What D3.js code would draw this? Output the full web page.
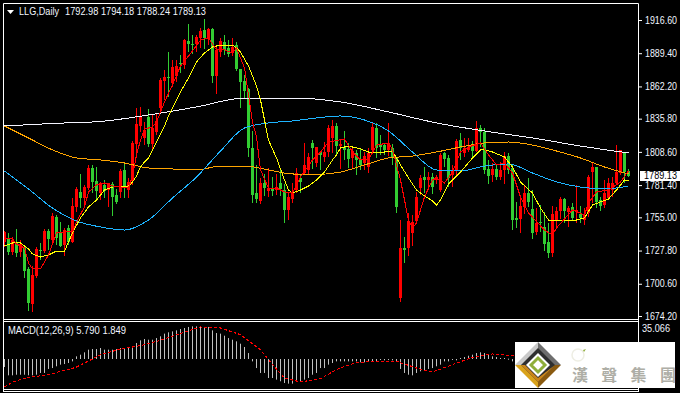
<!DOCTYPE html>
<html>
<head>
<meta charset="utf-8">
<script src="https://cdn.jsdelivr.net/npm/d3@7"></script>
<style>
  html, body { margin: 0; padding: 0; background: #000; overflow: hidden; }
  svg { display: block; }
  text { font-family: "Liberation Sans", sans-serif; }
</style>
</head>
<body>
<svg width="680" height="393"></svg>
<script>
var symbol = "LLG,Daily";
var macdLabel = "MACD(12,26,9) 5.790 1.849";
var priceTicks = [1916.6, 1889.4, 1862.2, 1835.8, 1808.6, 1781.4, 1755.0, 1727.8, 1700.6, 1674.2];
var macdTop = 35.066;

var open = [1734.8,1738.1,1726.6,1734.0,1726.6,1730.7,1712.7,1684.0,1707.0,1728.3,1727.4,1743.8,1736.4,1755.3,1742.2,1732.3,1746.3,1734.8,1763.5,1775.8,
  1770.8,1779.0,1795.4,1784.8,1774.9,1781.5,1777.4,1782.3,1773.3,1775.8,1793.8,1777.4,1784.8,1815.1,1829.8,1820.0,1837.2,1815.1,1824.9,1844.5,
  1866.7,1869.9,1865.0,1870.8,1881.4,1879.8,1899.4,1897.0,1897.0,1901.9,1908.4,1901.1,1909.2,1870.8,1890.4,1898.6,1893.7,1889.6,1896.1,1876.5,
  1866.7,1860.1,1811.8,1774.9,1768.4,1783.1,1776.6,1779.0,1777.4,1783.1,1777.4,1761.0,1770.0,1777.4,1787.2,1791.3,1793.8,1815.9,1799.5,1808.5,
  1804.4,1808.5,1820.0,1829.8,1813.4,1812.6,1811.0,1803.6,1807.7,1802.0,1799.5,1796.2,1810.2,1828.2,1815.1,1814.2,1810.2,1811.8,1803.6,1688.9,
  1729.9,1729.9,1742.2,1752.0,1779.0,1788.0,1785.6,1788.0,1785.6,1777.4,1807.7,1803.6,1789.7,1793.8,1818.3,1807.7,1810.2,1814.2,1809.3,1828.2,
  1824.9,1794.6,1789.7,1794.6,1788.0,1793.8,1805.2,1795.4,1754.5,1753.6,1763.5,1774.9,1761.8,1743.0,1751.2,1747.1,1734.8,1725.8,1752.8,1760.2,
  1770.0,1759.4,1763.5,1759.4,1757.7,1752.8,1758.6,1792.1,1796.2,1769.2,1765.1,1770.8,1777.4,1783.1,1791.3,1807.7,1792.98];
var high = [1743.8,1742.2,1738.9,1745.4,1736.4,1732.3,1714.3,1715.1,1730.7,1734.0,1745.4,1745.4,1758.6,1756.9,1751.2,1746.3,1748.7,1770.8,1779.8,1790.5,
  1781.5,1797.9,1797.9,1796.2,1783.9,1785.6,1783.1,1783.9,1778.2,1794.6,1799.5,1787.2,1817.5,1844.5,1845.4,1833.1,1843.7,1838.8,1840.5,1869.1,
  1875.7,1890.4,1883.9,1883.9,1888.0,1901.1,1913.3,1904.3,1904.3,1910.1,1917.4,1910.1,1910.1,1896.1,1901.9,1904.3,1900.2,1901.9,1898.6,1876.5,
  1871.6,1860.9,1825.7,1797.9,1787.2,1790.5,1795.4,1788.0,1790.5,1793.8,1782.3,1775.8,1783.1,1795.4,1789.7,1815.9,1807.7,1818.3,1812.6,1808.5,
  1816.7,1830.6,1834.7,1832.3,1818.3,1825.7,1815.9,1811.8,1810.2,1811.8,1808.5,1811.8,1832.3,1832.3,1822.4,1815.9,1832.3,1815.1,1804.4,1752.8,
  1738.9,1758.6,1756.9,1775.8,1789.7,1796.2,1792.1,1791.3,1789.7,1807.7,1808.5,1806.1,1797.9,1819.2,1824.1,1820.0,1820.0,1817.5,1833.9,1830.6,
  1828.2,1802.0,1799.5,1797.9,1800.3,1808.5,1807.7,1797.9,1767.6,1771.7,1780.7,1787.2,1777.4,1762.6,1765.1,1759.4,1750.4,1764.3,1763.5,1771.7,
  1770.8,1764.3,1766.7,1781.5,1764.3,1762.6,1789.7,1800.3,1796.2,1771.7,1785.6,1787.2,1788.0,1814.2,1810.2,1808.5,1794.18];
var low = [1730.7,1724.1,1724.1,1722.5,1722.5,1705.3,1678.3,1677.5,1705.3,1720.1,1725.8,1728.3,1732.3,1732.3,1730.7,1723.3,1732.3,1734.0,1759.4,1762.7,
  1765.1,1777.4,1774.9,1769.2,1769.2,1770.8,1763.5,1756.1,1765.9,1770.8,1770.8,1770.8,1781.5,1806.1,1824.9,1814.2,1812.6,1810.2,1822.4,1842.1,
  1851.1,1853.6,1861.7,1865.8,1873.2,1876.5,1890.4,1888.8,1890.4,1893.7,1892.9,1896.1,1865.0,1856.0,1886.3,1888.0,1886.3,1887.1,1874.9,1844.5,
  1852.7,1804.4,1766.7,1766.7,1765.9,1772.5,1771.7,1772.5,1773.3,1772.5,1750.4,1752.8,1766.7,1774.9,1774.9,1789.7,1789.7,1794.6,1796.2,1793.8,
  1800.3,1804.4,1807.7,1806.1,1794.6,1802.0,1795.4,1795.4,1789.7,1793.8,1793.8,1791.3,1807.7,1803.6,1806.1,1806.1,1805.2,1797.9,1758.6,1685.7,
  1717.6,1723.3,1731.5,1751.2,1773.3,1774.9,1777.4,1774.1,1782.3,1775.8,1796.2,1779.8,1779.8,1788.9,1802.0,1804.4,1808.5,1804.4,1808.5,1812.6,
  1790.5,1782.3,1783.9,1785.6,1785.6,1782.3,1790.5,1744.6,1746.3,1742.2,1757.7,1763.5,1737.3,1740.5,1743.0,1727.4,1721.7,1722.5,1747.1,1753.6,
  1750.4,1747.1,1752.8,1750.4,1750.4,1748.7,1755.3,1766.7,1762.6,1760.2,1762.6,1769.2,1771.7,1781.5,1789.7,1783.1,1788.24];
var close = [1743.0,1726.6,1736.4,1725.8,1733.2,1711.1,1684.8,1707.8,1729.1,1727.4,1743.8,1737.3,1756.1,1738.1,1731.5,1744.6,1734.8,1764.3,1778.2,1770.8,
  1779.8,1795.4,1783.9,1776.6,1783.1,1776.6,1783.1,1771.7,1767.6,1793.0,1779.8,1783.9,1815.9,1831.4,1838.0,1826.5,1815.1,1828.2,1833.9,1867.5,
  1869.9,1869.1,1878.1,1878.9,1880.6,1900.2,1897.0,1896.1,1902.7,1907.6,1901.9,1909.2,1870.8,1892.1,1899.4,1892.1,1888.8,1894.5,1876.5,1865.8,
  1858.5,1811.8,1773.3,1770.0,1783.1,1779.0,1779.0,1776.6,1779.8,1778.2,1761.0,1771.7,1774.9,1791.3,1783.9,1797.9,1804.4,1811.8,1812.6,1806.1,
  1808.5,1828.2,1829.8,1813.4,1815.1,1810.2,1802.8,1809.3,1802.0,1797.9,1805.2,1807.7,1829.0,1811.8,1812.6,1810.2,1815.9,1803.6,1763.5,1729.9,
  1728.3,1752.0,1751.2,1771.7,1787.2,1785.6,1788.0,1779.8,1788.0,1806.1,1802.8,1787.2,1793.8,1817.5,1811.8,1811.8,1812.6,1809.3,1828.2,1824.9,
  1793.8,1788.9,1794.6,1788.0,1793.8,1805.2,1793.8,1752.8,1752.8,1764.3,1774.9,1767.6,1742.2,1750.4,1750.4,1733.2,1725.8,1757.7,1760.2,1770.0,
  1760.2,1762.6,1754.5,1761.0,1754.5,1756.9,1788.0,1796.2,1767.6,1764.3,1774.9,1783.1,1783.1,1792.1,1810.2,1792.1,1789.13];

// slow averages, read every 12 / 6 bars
var whiteBars = [0,12,24,36,48,60,72,84,96,108,120,132,144,156];
var white = [1829.8,1831.9,1833.5,1838.8,1845.4,1852.7,1852.7,1849.5,1841.3,1832.3,1825.7,1820.0,1813.4,1807.7];
var slowBars = d3.range(0, 157, 6);
var orange = [1829.8,1820.0,1810.2,1803.6,1802.0,1799.5,1795.4,1794.6,1793.8,1797.0,1797.0,1793.8,1790.5,1790.1,1792.1,1797.9,1803.6,1805.2,1808.5,1812.6,1815.9,1816.7,1814.2,1809.3,1803.6,1796.2,1790.5];
var blue = [1793.0,1778.2,1762.6,1752.0,1747.1,1744.6,1752.8,1770.8,1788.0,1809.3,1828.2,1832.3,1833.9,1836.4,1838.0,1834.7,1825.7,1808.5,1793.8,1793.0,1797.0,1798.7,1791.3,1784.0,1779.8,1778.2,1780.7];

var yellowBars = [0,2,4,6,7,9,11,13,15,17,19,21,23,25,27,31,32,33,34,35,36,38,40,41,44,46,48,50,52,54,57,58,59,61,63,64,66,68,70,71,72,74,76,78,80,82,83,84,86,89,91,95,97,98,99,101,103,105,107,108,109,111,114,117,119,120,122,125,127,129,132,134,136,137,141,143,145,147,149,151,153,155,156];
var yellow = [1731.5,1734.0,1734.0,1729.1,1725.0,1722.5,1724.2,1727.4,1727.4,1742.2,1754.5,1763.5,1769.2,1777.4,1779.8,1780.7,1783.9,1788.9,1796.2,1800.3,1803.6,1816.7,1829.8,1838.0,1857.7,1869.1,1882.2,1889.6,1894.5,1896.1,1896.1,1893.7,1890.4,1878.9,1862.6,1851.1,1818.3,1803.6,1785.6,1777.4,1774.9,1777.4,1780.7,1785.6,1792.1,1802.0,1806.1,1811.8,1813.4,1811.0,1808.5,1808.5,1809.3,1803.6,1797.9,1787.2,1777.4,1772.5,1768.4,1765.1,1769.2,1782.3,1792.1,1803.6,1810.2,1810.2,1808.5,1804.4,1796.2,1783.9,1774.9,1762.6,1752.8,1752.0,1752.0,1752.8,1754.5,1765.1,1767.6,1770.0,1777.4,1785.6,1784.8];

var redBars = [0,2,3,5,6,7,9,11,13,15,17,18,20,21,23,25,27,31,32,33,34,35,37,38,40,42,44,47,49,51,53,55,57,58,60,61,62,63,64,66,68,70,72,74,77,79,81,85,87,89,91,93,96,97,98,99,101,102,103,105,107,108,110,112,114,116,119,121,123,125,127,129,131,135,137,138,142,145,146,148,151,154,156];
var red = [1738.1,1737.3,1733.2,1729.9,1717.6,1712.7,1712.7,1724.2,1742.2,1743.0,1743.0,1751.2,1763.5,1775.8,1781.5,1783.1,1780.7,1779.0,1788.9,1806.1,1818.3,1827.3,1829.0,1833.1,1849.5,1863.4,1878.9,1891.2,1900.2,1901.9,1892.1,1892.1,1889.6,1893.7,1877.3,1855.2,1833.1,1820.8,1793.8,1779.0,1779.0,1775.8,1774.9,1788.0,1802.0,1808.5,1816.7,1819.2,1808.5,1802.0,1802.0,1814.2,1815.9,1810.2,1797.9,1785.6,1752.8,1746.3,1750.4,1771.7,1785.6,1787.2,1783.1,1792.1,1808.5,1812.6,1815.9,1806.1,1797.9,1799.5,1791.3,1771.7,1758.6,1744.6,1740.5,1746.3,1761.0,1756.9,1766.7,1775.8,1777.4,1784.0,1793.0];

var hist = [-7.8,-15.9,-15.9,-15.3,-15.3,-15.3,-15.9,-15.9,-15.3,-13.6,-13.6,-9.7,-8.8,-7.1,-5.5,-4.9,-3.9,-2.3,
  2.6,4.2,6.5,9.1,9.7,9.7,10.7,9.1,9.1,9.1,9.7,10.7,10.7,11.7,11.7,15.6,18.2,19.5,18.8,18.8,20.4,22.1,24.7,26,26.9,27.9,29.2,30.2,31.2,31.8,31.8,31.8,31.2,31.2,27.9,25.3,24.7,22.7,20.4,18.8,17.2,14.9,11.7,5.8,
  -2.3,-8.8,-13.6,-13.6,-18.5,-18.5,-20.1,-21.7,-23.4,-24,-24,-21.7,-21.7,-20.1,-18.5,-15.3,-13.6,-8.8,-8.8,-5.5,-3.9,-2.3,
  -2.3,-2.3,-2.3,-2.3,-2.3,-3.2,-3.2,-2.3,-2.3,-2.3,-0.6,-1.3,-1.0,-1.3,-2.3,-9.7,-13.6,-15.3,-15.9,-13.6,-12,-11,-9.7,-8.8,-7.1,-5.5,-2.3,-2.3,-0.6,-1.3,
  1,1.9,3.2,4.2,5.8,6.5,5.8,4.2,2.6,1.9,1,1,0.3,-2.3,
  -3,-5,-6,-7,-8,-8,-9,-9,-8,-7,-7,-6,-5,-5,-4,-3,-3,-2,-1,0,1,2,2,3,3,4,5,5.5,5.79];
var signalBars = [0,2,4,6,8,10,12,14,16,18,20,22,24,29,34,39,44,49,54,59,64,67,70,74,79,83,84,88,94,98,103,107,112,117,122,126,130,142,150,156];
var signal = [-27.3,-22.7,-20.1,-17.9,-16.9,-15.9,-14.3,-12,-10.4,-7.8,-3.9,0,4.2,9.7,13,18.2,24.7,31.2,30.2,23.7,9.1,-5.5,-18.5,-22.4,-19.2,-10.4,-8.8,-3.2,-2.3,-2.3,-8.8,-12.7,-5.5,1.6,4.9,3.6,2,-2,0,1.849];

var svg = d3.select("svg");

var x = d3.scaleLinear().domain([0, 156]).range([4.5, 628.5]);
var y = d3.scaleLinear().domain([1674.2, 1916.6]).range([316, 20]);
var yMacd = d3.scaleLinear().domain([-30, macdTop]).range([389.8, 323]);

var upColor = "#ff0000", downColor = "#32cd32", labelColor = "#f2f6ff";

// candles
var bars = svg.append("g").attr("class", "candles")
  .selectAll("g")
  .data(d3.range(close.length))
  .enter().append("g")
  .attr("fill", i => close[i] >= open[i] ? upColor : downColor);

bars.append("rect")
  .attr("x", i => x(i) - 0.5)
  .attr("width", 1)
  .attr("y", i => Math.round(y(high[i])))
  .attr("height", i => Math.max(1, Math.round(y(low[i])) - Math.round(y(high[i]))));

bars.append("rect")
  .attr("x", i => x(i) - 1.5)
  .attr("width", 3)
  .attr("y", i => Math.round(y(Math.max(open[i], close[i]))))
  .attr("height", i => Math.max(1, Math.round(y(Math.min(open[i], close[i]))) - Math.round(y(Math.max(open[i], close[i])))));

// moving averages
function drawLine(idx, vals, color, curve) {
  var line = d3.line()
    .x(d => x(d))
    .y((d, k) => y(vals[k]))
    .curve(curve);
  svg.append("path")
    .attr("d", line(idx))
    .attr("fill", "none")
    .attr("stroke", color)
    .attr("stroke-width", 1)
    .attr("shape-rendering", "crispEdges");
}
drawLine(whiteBars, white, "#f4f4ff", d3.curveMonotoneX);
drawLine(slowBars, orange, "#ffa500", d3.curveMonotoneX);
drawLine(slowBars, blue, "#1eb4ff", d3.curveMonotoneX);
drawLine(yellowBars, yellow, "#ffff00", d3.curveLinear);
drawLine(redBars, red, "#ff0000", d3.curveLinear);

// macd panel
svg.append("g").selectAll("rect")
  .data(hist)
  .enter().append("rect")
  .attr("x", (d, i) => x(i) - 0.5)
  .attr("width", 1)
  .attr("y", d => Math.min(yMacd(d), yMacd(0)))
  .attr("height", d => Math.max(1, Math.abs(yMacd(d) - yMacd(0))))
  .attr("fill", "#c0c0c0");

var signalLine = d3.line().x(d => x(d)).y((d, k) => yMacd(signal[k]));
svg.append("path")
  .attr("d", signalLine(signalBars))
  .attr("fill", "none")
  .attr("stroke", "#ff0000")
  .attr("stroke-dasharray", "3,2")
  .attr("shape-rendering", "crispEdges");

// frame
var frame = [[3.5, 3.5, 638.5, 3.5], [3.5, 319.5, 638.5, 319.5], [3.5, 321.5, 638.5, 321.5],
  [3.5, 389.5, 638.5, 389.5], [3.5, 391.5, 638.5, 391.5], [3.5, 3.5, 3.5, 392], [638.5, 3.5, 638.5, 392]];
svg.append("g").selectAll("line")
  .data(frame)
  .enter().append("line")
  .attr("x1", d => d[0]).attr("y1", d => d[1])
  .attr("x2", d => d[2]).attr("y2", d => d[3])
  .attr("stroke", "#fff");

// price axis
var axis = svg.append("g")
  .attr("transform", "translate(639,0)")
  .call(d3.axisRight(y).tickValues(priceTicks).tickFormat(d3.format(".2f")).tickSize(3).tickPadding(3));
axis.select(".domain").remove();
axis.selectAll("line").attr("stroke", "#fff");
axis.selectAll("text")
  .attr("fill", labelColor)
  .attr("textLength", 32)
  .attr("lengthAdjust", "spacingAndGlyphs")
  .style("font-size", "10px")
  .style("font-family", "'Liberation Sans', sans-serif");

// last price box
var last = close[close.length - 1];
svg.append("rect")
  .attr("x", 640).attr("width", 40)
  .attr("y", Math.round(y(last)) - 5).attr("height", 10)
  .attr("fill", "#fff");
svg.append("text")
  .attr("x", 644).attr("y", y(last)).attr("dy", ".35em")
  .attr("fill", "#000").style("font-size", "10px")
  .attr("textLength", 33).attr("lengthAdjust", "spacingAndGlyphs")
  .text(last.toFixed(2));

svg.append("text")
  .attr("x", 642).attr("y", 328).attr("dy", ".35em")
  .attr("fill", labelColor).style("font-size", "10px")
  .attr("textLength", 28).attr("lengthAdjust", "spacingAndGlyphs")
  .text(macdTop);

// header
svg.append("path").attr("d", "M7,10H14L10.5,14Z").attr("fill", "#fff");
svg.append("text")
  .attr("x", 19).attr("y", 15)
  .attr("fill", labelColor).style("font-size", "10px")
  .attr("textLength", 40).attr("lengthAdjust", "spacingAndGlyphs")
  .text(symbol);
svg.append("text")
  .attr("x", 65).attr("y", 15)
  .attr("fill", labelColor).style("font-size", "10px")
  .attr("textLength", 141).attr("lengthAdjust", "spacingAndGlyphs")
  .text([open, high, low, close].map(s => s[s.length - 1].toFixed(2)).join(" "));
svg.append("text")
  .attr("x", 8).attr("y", 334)
  .attr("fill", labelColor).style("font-size", "10px")
  .attr("textLength", 118).attr("lengthAdjust", "spacingAndGlyphs")
  .text(macdLabel);

// logo plate
var logo = svg.append("g");
logo.append("rect").attr("x", 515).attr("y", 342).attr("width", 160).attr("height", 46).attr("fill", "#fff");
var mark = logo.append("g").attr("transform", "translate(538,365)");
function facet(pts, color) { mark.append("polygon").attr("points", pts).attr("fill", color); }
facet("0,-23 -23,0 0,0", "#c9c9c9");
facet("0,-23 23,0 0,0", "#6e6e6e");
facet("-23,0 0,23 0,0", "#d9a21b");
facet("23,0 0,23 0,0", "#8a5a10");
facet("0,-17 17,0 0,17 -17,0", "#2f2f2f");
facet("-17,0 0,17 17,0 0,13 -13,0", "#c9851a");
facet("0,-12 12,0 0,12 -12,0", "#fff");
mark.append("polygon").attr("points", "0,-7 7,0 0,7 -7,0").attr("fill", "#fff").attr("stroke", "#8fae3a").attr("stroke-width", 3);
logo.append("circle").attr("cx", 578).attr("cy", 355).attr("r", 6).attr("fill", "none").attr("stroke", "#eeeee4").attr("stroke-width", 1.5);
logo.append("path").attr("d", "M583,350l3,-1l-2,3z").attr("fill", "#8fae3a");
logo.selectAll("text.cn")
  .data(["漢", "聲", "集", "團"])
  .enter().append("text")
  .attr("x", (d, i) => 572 + i * 29.3)
  .attr("y", 381)
  .attr("fill", "#aeaea6")
  .style("font-family", "'Noto Sans CJK TC', sans-serif")
  .style("font-weight", "700")
  .style("font-size", "16px")
  .text(d => d);
</script>
</body>
</html>
